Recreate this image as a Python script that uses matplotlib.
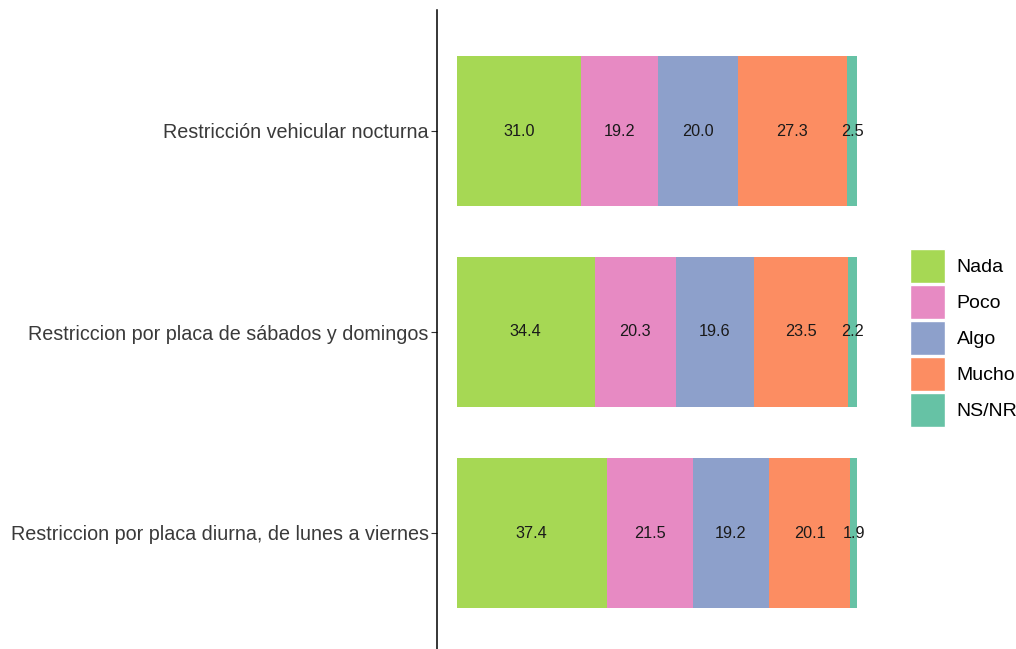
import matplotlib.pyplot as plt
from matplotlib.patches import Patch
import numpy as np

plt.rcParams['font.family'] = ['Liberation Sans', 'DejaVu Sans']

# data (percent)
categories = ["Restricción vehicular nocturna",
              "Restriccion por placa de sábados y domingos",
              "Restriccion por placa diurna, de lunes a viernes"]
levels = ["Nada", "Poco", "Algo", "Mucho", "NS/NR"]
nada = [31.0, 34.4, 37.4]
poco = [19.2, 20.3, 21.5]
algo = [20.0, 19.6, 19.2]
mucho = [27.3, 23.5, 20.1]
nsnr = [2.5, 2.2, 1.9]
colors = ["#A6D854", "#E78AC3", "#8DA0CB", "#FC8D62", "#66C2A5"]

series = [nada, poco, algo, mucho, nsnr]

fig = plt.figure(figsize=(10.16, 6.49), dpi=100)
ax = fig.add_axes([437/1016, -4.6/649, 440/1016, 643.2/649])

ypos = np.arange(len(categories))[::-1] + 1  # first category at top
left = np.zeros(len(categories))
for vals, col, lab in zip(series, colors, levels):
    vals = np.array(vals)
    ax.barh(ypos, vals, left=left, height=0.75, color=col, label=lab)
    for y, l, v in zip(ypos, left, vals):
        ax.text(l + v/2, y, f"{v:.1f}", ha='center', va='center', fontsize=11.7, color='#1a1a1a')
    left = left + vals

ax.set_xlim(-5, 105)
ax.set_ylim(0.4, 3.6)
ax.set_yticks(ypos)
ax.set_yticklabels(categories, fontsize=14.2, color='#3a3a3a')
ax.set_xticks([])
for s in ['top', 'right', 'bottom']:
    ax.spines[s].set_visible(False)
ax.spines['left'].set_color('black')
ax.spines['left'].set_linewidth(1.1)
ax.tick_params(axis='y', length=4, color='#333333', pad=2)

handles = [Patch(facecolor=c, edgecolor='white', linewidth=1.0) for c in colors]
fig.legend(handles, levels, loc='center left', bbox_to_anchor=(910/1016, 1-338/649),
           frameon=False, fontsize=14, handlelength=1.78, handleheight=2.32,
           labelspacing=0.09, handletextpad=0.62, borderpad=0, borderaxespad=0)

fig.savefig('out.png', dpi=100)
